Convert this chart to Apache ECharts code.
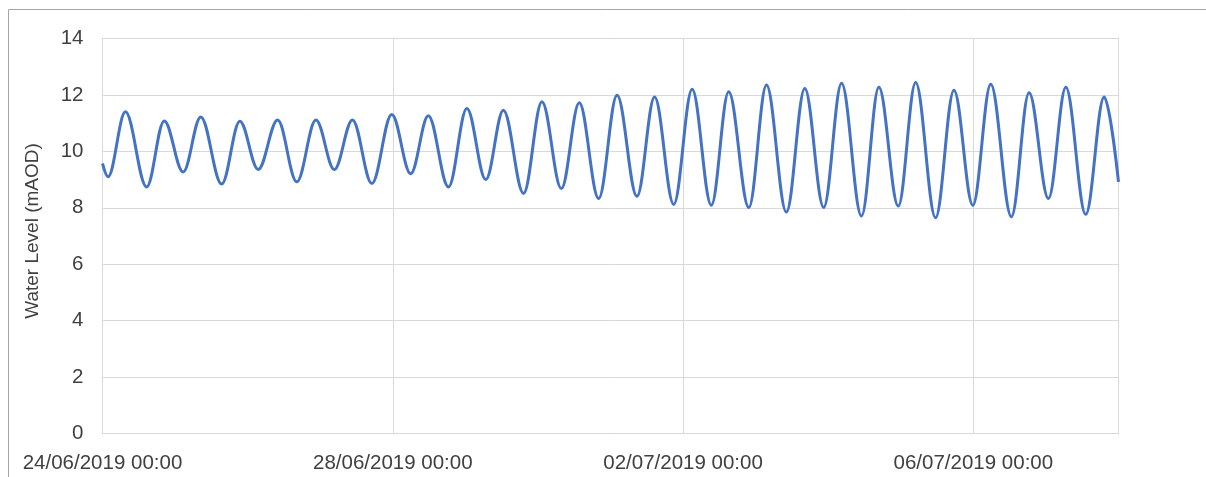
<!DOCTYPE html>
<html>
<head>
<meta charset="utf-8">
<title>Water Level</title>
<script src="https://cdn.jsdelivr.net/npm/echarts@6/dist/echarts.min.js"></script>
<style>
  html, body { margin: 0; padding: 0; background: #ffffff; }
  #chart { width: 1206px; height: 477px; }
</style>
</head>
<body>
<div id="chart"></div>
<script>
// High and low water readings (local gauge time) and levels in mAOD
const tideTimes = [
  '2019-06-24 00:00', '2019-06-24 01:50', '2019-06-24 07:35', '2019-06-24 14:35',
  '2019-06-24 20:25', '2019-06-25 02:40', '2019-06-25 08:30', '2019-06-25 15:25',
  '2019-06-25 21:25', '2019-06-26 03:30', '2019-06-26 09:55', '2019-06-26 16:15',
  '2019-06-26 22:35', '2019-06-27 04:40', '2019-06-27 10:40', '2019-06-27 17:05',
  '2019-06-27 23:40', '2019-06-28 05:55', '2019-06-28 11:45', '2019-06-28 18:25',
  '2019-06-29 00:30', '2019-06-29 06:45', '2019-06-29 12:35', '2019-06-29 19:15',
  '2019-06-30 01:20', '2019-06-30 07:45', '2019-06-30 13:40', '2019-06-30 20:05',
  '2019-07-01 02:10', '2019-07-01 08:45', '2019-07-01 14:35', '2019-07-01 20:55',
  '2019-07-02 03:00', '2019-07-02 09:20', '2019-07-02 15:05', '2019-07-02 21:45',
  '2019-07-03 03:35', '2019-07-03 10:10', '2019-07-03 16:15', '2019-07-03 22:30',
  '2019-07-04 04:25', '2019-07-04 11:00', '2019-07-04 16:45', '2019-07-04 23:10',
  '2019-07-05 04:55', '2019-07-05 11:30', '2019-07-05 17:35', '2019-07-05 23:50',
  '2019-07-06 05:45', '2019-07-06 12:35', '2019-07-06 18:25', '2019-07-07 00:50',
  '2019-07-07 06:35', '2019-07-07 13:10', '2019-07-07 19:15', '2019-07-08 00:00'
];

const waterLevels = [
  9.57, 9.10, 11.40, 8.74,
  11.08, 9.27, 11.22, 8.84,
  11.07, 9.36, 11.11, 8.92,
  11.11, 9.36, 11.11, 8.86,
  11.31, 9.21, 11.26, 8.74,
  11.52, 9.00, 11.46, 8.51,
  11.76, 8.68, 11.72, 8.33,
  11.99, 8.41, 11.93, 8.12,
  12.20, 8.09, 12.11, 8.01,
  12.35, 7.85, 12.23, 8.01,
  12.41, 7.71, 12.27, 8.06,
  12.44, 7.65, 12.17, 8.09,
  12.38, 7.68, 12.08, 8.33,
  12.27, 7.77, 11.93, 8.92
];

const xTickLabels = ['24/06/2019 00:00', '28/06/2019 00:00', '02/07/2019 00:00', '06/07/2019 00:00'];
const yTickLabels = ['0', '2', '4', '6', '8', '10', '12', '14'];

const DAY_MS = 86400000;
const START_MS = Date.UTC(2019, 5, 24, 0, 0);
const X_STEP = 4;       // days between labelled ticks
const X_SPAN = 14;      // days shown
const Y_STEP = 2;

// Days elapsed since the start of the record
function toDays(s) {
  const m = s.match(/(\d+)-(\d+)-(\d+) (\d+):(\d+)/);
  const t = Date.UTC(+m[1], +m[2] - 1, +m[3], +m[4], +m[5]);
  return (t - START_MS) / DAY_MS;
}

const seriesData = tideTimes.map((t, i) => [toDays(t), waterLevels[i]]);

const labelFont = {
  fontFamily: 'Liberation Sans',
  fontSize: 20.5,
  color: '#404040'
};

const chart = echarts.init(document.getElementById('chart'), null, { renderer: 'canvas' });

chart.setOption({
  animation: false,
  backgroundColor: '#ffffff',
  grid: {
    left: 102.5,
    right: 87.5,
    top: 38.5,
    bottom: 43.5,
    show: true,
    borderColor: '#a6a6a6',
    borderWidth: 1,
    backgroundColor: 'transparent'
  },
  xAxis: {
    type: 'value',
    min: 0,
    max: X_SPAN,
    interval: X_STEP,
    axisLine: { show: false },
    axisTick: { show: false },
    splitLine: { show: true, lineStyle: { color: '#d9d9d9', width: 1 } },
    axisLabel: Object.assign({
      margin: 19,
      showMaxLabel: false,
      formatter: function (v) {
        const i = Math.round(v / X_STEP);
        return Math.abs(v - i * X_STEP) < 1e-9 && xTickLabels[i] ? xTickLabels[i] : '';
      }
    }, labelFont)
  },
  yAxis: {
    type: 'value',
    min: 0,
    max: 14,
    interval: Y_STEP,
    axisLine: { show: false },
    axisTick: { show: false },
    splitLine: { show: true, lineStyle: { color: '#d9d9d9', width: 1 } },
    axisLabel: Object.assign({
      margin: 19,
      formatter: function (v) {
        const i = Math.round(v / Y_STEP);
        return yTickLabels[i] !== undefined ? yTickLabels[i] : '';
      }
    }, labelFont)
  },
  graphic: [
    {
      type: 'rect',
      silent: true,
      shape: { x: 8.5, y: 9.5, width: 1400, height: 700 },
      style: { fill: 'none', stroke: '#a6a6a6', lineWidth: 1 }
    },
    {
      type: 'text',
      silent: true,
      x: 33,
      y: 231,
      rotation: Math.PI / 2,
      style: {
        text: 'Water Level (mAOD)',
        fontFamily: 'Liberation Sans',
        fontSize: 19,
        fill: '#404040',
        align: 'center',
        verticalAlign: 'middle'
      }
    }
  ],
  series: [
    {
      type: 'line',
      data: seriesData,
      showSymbol: false,
      symbol: 'none',
      smooth: 0.36,
      smoothMonotone: 'x',
      lineStyle: { color: '#4472c4', width: 3 },
      z: 3
    }
  ]
});
</script>
</body>
</html>
